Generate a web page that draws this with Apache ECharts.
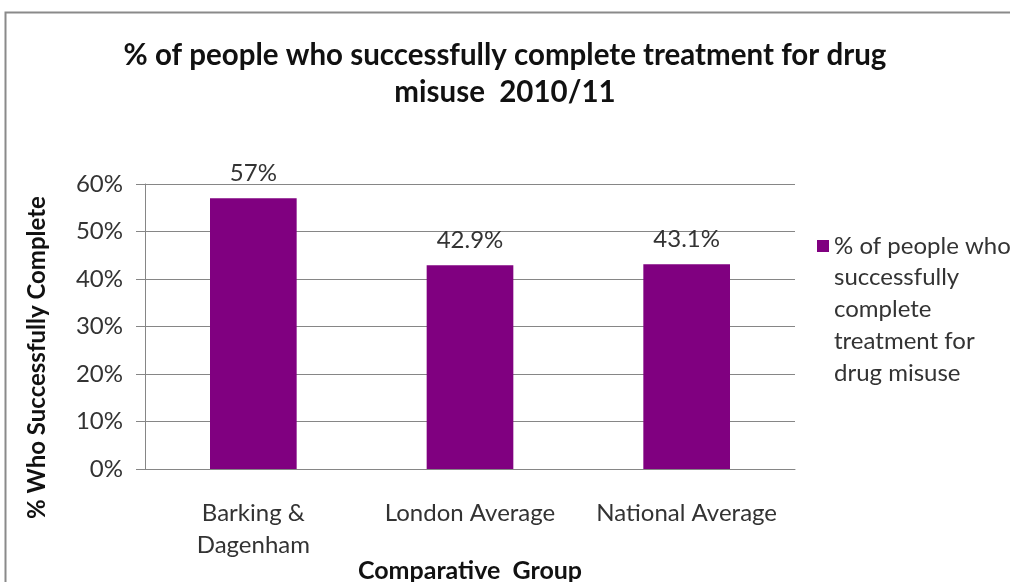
<!DOCTYPE html>
<html>
<head>
<meta charset="utf-8">
<script src="https://cdn.jsdelivr.net/npm/echarts@6/dist/echarts.min.js"></script>
<style>
html, body { margin: 0; padding: 0; background: #fff; }
#main { width: 1010px; height: 582px; }
</style>
</head>
<body>
<div id="main"></div>
<script>
var categories = ['Barking &\nDagenham', 'London Average', 'National Average'];
var values = [57, 42.9, 43.1];
var valueLabels = ['57%', '42.9%', '43.1%'];
var yTicks = [0, 10, 20, 30, 40, 50, 60];
var seriesName = '% of people who successfully complete treatment for drug misuse';

var chart = echarts.init(document.getElementById('main'));
var font = 'Lato, "Open Sans", sans-serif';
var option = {
	animation: false,
	textStyle: { fontFamily: font },
	title: {
		text: '% of people who successfully complete treatment for drug\nmisuse  2010/11',
		left: 'center',
		top: 32,
		textStyle: { fontFamily: font, fontSize: 29.5, fontWeight: 'bold', color: '#111', lineHeight: 37 }
	},
	graphic: [{
		type: 'rect',
		shape: { x: 5.5, y: 12.5, width: 1020, height: 600 },
		style: { fill: 'none', stroke: '#8a8a8a', lineWidth: 2 },
		silent: true
	}],
	legend: {
		left: 812,
		top: 225,
		itemWidth: 12,
		itemHeight: 159,
		itemGap: 0,
		icon: 'path://M0,0h0.01v0.01h-0.01z M0,10h12v12h-12z M0,159h0.01v0.01h-0.01z',
		formatter: function () {
			return '% of people who\nsuccessfully\ncomplete\ntreatment for\ndrug misuse';
		},
		textStyle: { fontFamily: font, fontSize: 24, color: '#333', lineHeight: 31.75 }
	},
	grid: { left: 145, right: 215, top: 184, bottom: 113, outerBoundsMode: 'none', containLabel: false },
	xAxis: {
		type: 'category',
		data: categories,
		name: 'Comparative  Group',
		nameLocation: 'middle',
		nameGap: 89,
		nameMoveOverlap: false,
		nameTextStyle: { fontFamily: font, fontSize: 25, fontWeight: 'bold', color: '#111' },
		axisLine: { lineStyle: { color: '#868686' } },
		axisTick: { length: 9, lineStyle: { color: '#868686' } },
		axisLabel: { fontFamily: font, fontSize: 24, color: '#333', margin: 28, lineHeight: 32, interval: 0 }
	},
	yAxis: {
		type: 'value',
		min: yTicks[0],
		max: yTicks[yTicks.length - 1],
		interval: 10,
		name: '% Who Successfully Complete',
		nameLocation: 'middle',
		nameGap: 96,
		nameMoveOverlap: false,
		nameTextStyle: { fontFamily: font, fontSize: 24, fontWeight: 'bold', color: '#111', padding: [0, 62, 0, 0] },
		axisLine: { show: true, lineStyle: { color: '#868686' } },
		axisTick: { show: true, length: 9, lineStyle: { color: '#868686' } },
		splitLine: { lineStyle: { color: '#868686' } },
		axisLabel: { fontFamily: font, fontSize: 24, color: '#333', margin: 22, formatter: '{value}%' }
	},
	series: [{
		name: seriesName,
		type: 'bar',
		data: values,
		barWidth: '40%',
		itemStyle: { color: '#800080' },
		label: {
			show: true,
			position: 'top',
			distance: 13,
			fontFamily: font,
			fontSize: 24,
			color: '#333',
			formatter: function (p) { return valueLabels[p.dataIndex]; }
		}
	}]
};
chart.setOption(option);
</script>
</body>
</html>
